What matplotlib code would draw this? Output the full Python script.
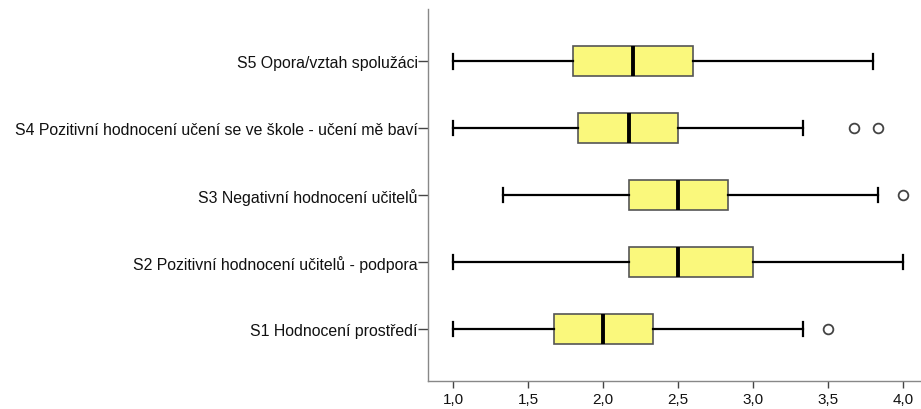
import matplotlib
matplotlib.use("Agg")
import matplotlib.pyplot as plt

# data (bottom to top)
labels = ["S1 Hodnocení prostředí",
          "S2 Pozitivní hodnocení učitelů - podpora",
          "S3 Negativní hodnocení učitelů",
          "S4 Pozitivní hodnocení učení se ve škole - učení mě baví",
          "S5 Opora/vztah spolužáci"]
whislo = [1.0, 1.0, 1.33, 1.0, 1.0]
q1 = [1.67, 2.17, 2.17, 1.83, 1.80]
med = [2.0, 2.5, 2.5, 2.17, 2.20]
q3 = [2.33, 3.0, 2.83, 2.5, 2.60]
whishi = [3.33, 4.0, 3.83, 3.33, 3.80]
fliers = [[3.5], [], [4.0], [3.67, 3.83], []]

xticks = [1.0, 1.5, 2.0, 2.5, 3.0, 3.5, 4.0]
xticklabels = ["1,0", "1,5", "2,0", "2,5", "3,0", "3,5", "4,0"]

plt.rcParams['font.family'] = ['Liberation Sans', 'DejaVu Sans']

stats = []
for i in range(len(labels)):
    stats.append({"label": labels[i], "whislo": whislo[i], "q1": q1[i], "med": med[i],
                  "q3": q3[i], "whishi": whishi[i], "fliers": fliers[i]})

fig = plt.figure(figsize=(9.21, 4.10), dpi=100)
ax = fig.add_axes([0.4647, 0.068, 0.5353, 0.9076])

ax.bxp(stats, vert=False, widths=0.45, patch_artist=True, showfliers=True,
       boxprops=dict(facecolor="#faf87c", edgecolor="#555555", linewidth=1.2),
       medianprops=dict(color="black", linewidth=2.8),
       whiskerprops=dict(color="black", linewidth=1.6),
       capprops=dict(color="black", linewidth=1.6),
       capwidths=0.22,
       flierprops=dict(marker="o", markersize=7, markerfacecolor="none",
                       markeredgecolor="#444444", markeredgewidth=1.3))

ax.set_xlim(0.833, 4.12)
ax.set_ylim(0.22, 5.78)
ax.set_xticks(xticks)
ax.set_xticklabels(xticklabels)

for s in ["top", "right"]:
    ax.spines[s].set_visible(False)
for s in ["left", "bottom"]:
    ax.spines[s].set_color("#888888")
    ax.spines[s].set_linewidth(1.0)

ax.tick_params(axis="both", colors="#444444", labelcolor="#111111", width=1.0)
ax.tick_params(axis="y", length=7, pad=0.5, labelsize=11.4)
ax.tick_params(axis="x", length=5, pad=3, labelsize=11)

fig.savefig("out.png", dpi=100)
